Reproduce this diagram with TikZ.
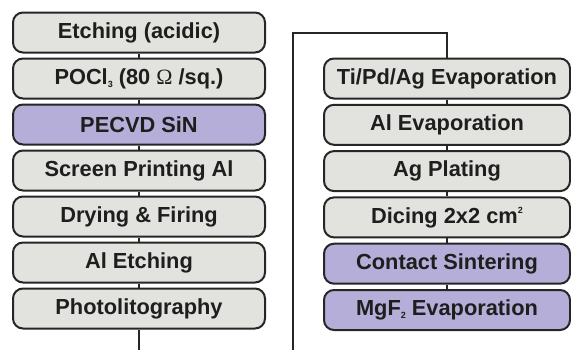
\documentclass[tikz,border=0pt]{standalone}
\usepackage{fontspec}
\setmainfont{Liberation Sans}
\newfontfamily\omegafont{Liberation Serif}
\definecolor{boxgrey}{RGB}{226,226,223}
\definecolor{boxpurple}{RGB}{180,174,216}
\definecolor{edgedark}{RGB}{38,38,38}
\definecolor{txtdark}{RGB}{30,30,30}
\newcommand{\smallsub}[1]{\raisebox{-0.25ex}{\fontsize{9}{9}\selectfont #1}}
\newcommand{\smallsup}[1]{\raisebox{0.9ex}{\fontsize{9}{9}\selectfont #1}}
\tikzset{
  stepbox/.style={draw=edgedark, line width=2pt, rounded corners=10pt, fill=boxgrey,
    text=txtdark, font=\bfseries\fontsize{21.8}{24}\selectfont,
    inner sep=0pt, minimum height=40pt, anchor=center},
  leftbox/.style={stepbox, minimum width=252pt},
  rightbox/.style={stepbox, minimum width=246pt},
  purplebox/.style={fill=boxpurple},
  conn/.style={draw=edgedark, line width=2.2pt}
}
\begin{document}
\begin{tikzpicture}[x=1pt, y=-1pt]
\useasboundingbox (0,0) rectangle (571,349);
% left column
\node[leftbox] (l1) at (139,32.5) {Etching (acidic)};
\node[leftbox] (l2) at (139,78.5) {POCl\smallsub{3} (80 {\omegafont\mdseries Ω} /sq.)};
\node[leftbox, purplebox] (l3) at (139,124.5) {PECVD SiN};
\node[leftbox] (l4) at (139,170.5) {Screen Printing Al};
\node[leftbox] (l5) at (139,216.5) {Drying \& Firing};
\node[leftbox] (l6) at (139,262.5) {Al Etching};
\node[leftbox] (l7) at (139,308.5) {Photolitography};
% right column
\node[rightbox] (r1) at (447,78.5) {Ti/Pd/Ag Evaporation};
\node[rightbox] (r2) at (447,124.8) {Al Evaporation};
\node[rightbox] (r3) at (447,171.1) {Ag Plating};
\node[rightbox] (r4) at (447,217.4) {Dicing 2x2 cm\smallsup{2}};
\node[rightbox, purplebox] (r5) at (447,263.7) {Contact Sintering};
\node[rightbox, purplebox] (r6) at (447,310) {MgF\smallsub{2} Evaporation};
% connectors
\draw[conn] (l1.south) -- (l2.north);
\draw[conn] (l2.south) -- (l3.north);
\draw[conn] (l3.south) -- (l4.north);
\draw[conn] (l4.south) -- (l5.north);
\draw[conn] (l5.south) -- (l6.north);
\draw[conn] (l6.south) -- (l7.north);
\coordinate (lend) at (139,351);
\draw[conn] (l7.south) -- (lend);
\coordinate (rstart) at (293,351);
\coordinate (rturn) at (293,33);
\draw[conn] (rstart) -- (rturn) -| (r1.north);
\draw[conn] (r1.south) -- (r2.north);
\draw[conn] (r2.south) -- (r3.north);
\draw[conn] (r3.south) -- (r4.north);
\draw[conn] (r4.south) -- (r5.north);
\draw[conn] (r5.south) -- (r6.north);
\end{tikzpicture}
\end{document}
